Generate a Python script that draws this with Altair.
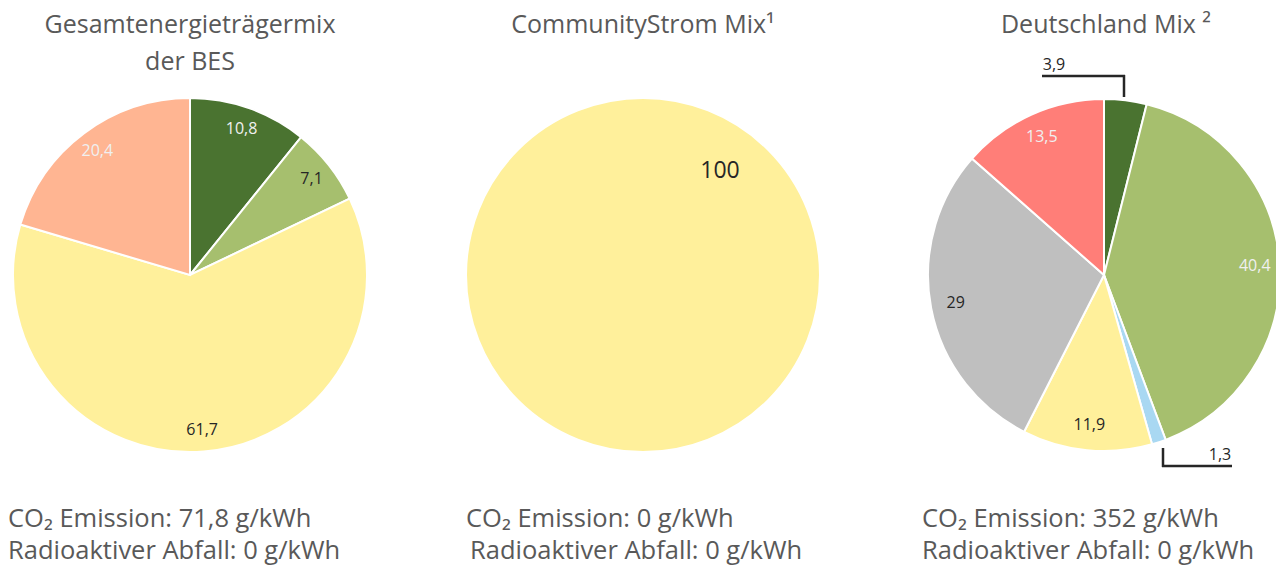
import altair as alt
import pandas as pd

# ---- data ----
pie_titles = [["Gesamtenergieträgermix", "der BES"], ["CommunityStrom Mix¹"], ["Deutschland Mix ²"]]
co2_lines = ["CO₂ Emission: 71,8 g/kWh", "CO₂ Emission: 0 g/kWh", "CO₂ Emission: 352 g/kWh"]
waste_lines = ["Radioaktiver Abfall: 0 g/kWh", "Radioaktiver Abfall: 0 g/kWh", "Radioaktiver Abfall: 0 g/kWh"]

bes_cats = ["Wind", "Sonstige Erneuerbare", "Solar", "Erdgas"]
bes_vals = [10.8, 7.1, 61.7, 20.4]

community_cats = ["Solar"]
community_vals = [100]

de_cats = ["Wind", "Sonstige Erneuerbare", "Wasser", "Solar", "Kohle", "Kernenergie"]
de_vals = [3.9, 40.4, 1.3, 11.9, 29, 13.5]

all_cats = ["Wind", "Sonstige Erneuerbare", "Wasser", "Solar", "Kohle", "Kernenergie", "Erdgas"]
all_colors = ["#4a7330", "#a6bf6e", "#a9d8f2", "#fff09b", "#bfbfbf", "#ff7e78", "#ffb592"]
light_label_keys = ["bes|Wind", "bes|Erdgas", "de|Sonstige Erneuerbare", "de|Kernenergie"]


def fmt(v):
    return ("%g" % v).replace(".", ",")


rows = []
for pie, cats, vals in [("bes", bes_cats, bes_vals), ("community", community_cats, community_vals), ("de", de_cats, de_vals)]:
    for i, (c, v) in enumerate(zip(cats, vals)):
        rows.append({"pie": pie, "cat": c, "value": v, "order": i, "label": fmt(v), "key": pie + "|" + c})
df = pd.DataFrame(rows)

FONT = "Open Sans"
centers = {"bes": 182, "community": 635, "de": 1096}
radii = {"bes": 177, "community": 177, "de": 176}
label_radii = {"bes": 155, "de": 151}
CY = 267

color_scale = alt.Scale(domain=all_cats, range=all_colors)

layers = []
for pie, cx in centers.items():
    base = alt.Chart(df).transform_filter(alt.datum.pie == pie)
    arcs = base.mark_arc(radius=radii[pie], stroke="white", strokeWidth=2).encode(
        theta=alt.Theta("value:Q", stack=True),
        color=alt.Color("cat:N", scale=color_scale, legend=None),
        order=alt.Order("order:Q"),
        x=alt.value(cx),
        y=alt.value(CY),
    )
    layers.append(arcs)
    if pie != "community":
        lab = base.mark_text(radius=label_radii[pie], font=FONT, fontSize=16).encode(
            theta=alt.Theta("value:Q", stack=True),
            order=alt.Order("order:Q"),
            text="label:N",
            x=alt.value(cx),
            y=alt.value(CY),
            color=alt.condition(
                alt.FieldOneOfPredicate(field="key", oneOf=light_label_keys),
                alt.value("#f0f0f0"),
                alt.value("#262626"),
            ),
            opacity=alt.condition(alt.datum.value < 5, alt.value(0), alt.value(1)),
        )
        layers.append(lab)

# label of the single 100 % slice
layers.append(
    alt.Chart(df).transform_filter(alt.datum.pie == "community").mark_text(
        font=FONT, fontSize=23, color="#262626"
    ).encode(text="label:N", x=alt.value(712), y=alt.value(163))
)

# outside labels for small slices of Deutschland Mix
small = alt.Chart(df).transform_filter((alt.datum.pie == "de") & (alt.datum.value < 5))
layers.append(
    small.transform_filter(alt.datum.order == 0).mark_text(font=FONT, fontSize=16, color="#262626").encode(
        text="label:N", x=alt.value(1046), y=alt.value(57)
    )
)
layers.append(
    small.transform_filter(alt.datum.order == 2).mark_text(font=FONT, fontSize=16, color="#262626").encode(
        text="label:N", x=alt.value(1212), y=alt.value(447)
    )
)

# leader lines
line_style = dict(color="#262626", strokeWidth=2.5)
leader = alt.Chart(pd.DataFrame({"a": [0]}))
layers.append(leader.mark_rule(**line_style).encode(x=alt.value(1034), x2=alt.value(1117), y=alt.value(68)))
layers.append(leader.mark_rule(**line_style).encode(x=alt.value(1116), y=alt.value(67), y2=alt.value(89)))
layers.append(leader.mark_rule(**line_style).encode(x=alt.value(1155), y=alt.value(440), y2=alt.value(459)))
layers.append(leader.mark_rule(**line_style).encode(x=alt.value(1154), x2=alt.value(1224), y=alt.value(458)))

# titles
title_x = {"bes": 182, "community": 635, "de": 1098}
for pie, tlines in zip(centers.keys(), pie_titles):
    for j, t in enumerate(tlines):
        layers.append(
            leader.mark_text(text=t, font=FONT, fontSize=25, color="#595959", baseline="middle").encode(
                x=alt.value(title_x[pie]), y=alt.value(17 + 37 * j)
            )
        )

# bottom notes
left_x1 = [0, 458, 914]
left_x2 = [0, 462, 914]
for i in range(3):
    layers.append(
        leader.mark_text(text=co2_lines[i], font=FONT, fontSize=25.5, color="#595959", align="left", baseline="middle").encode(
            x=alt.value(left_x1[i]), y=alt.value(511)
        )
    )
    layers.append(
        leader.mark_text(text=waste_lines[i], font=FONT, fontSize=25.5, color="#595959", align="left", baseline="middle").encode(
            x=alt.value(left_x2[i]), y=alt.value(543)
        )
    )

chart = alt.layer(*layers).properties(
    width=1268, height=558, autosize=alt.AutoSizeParams(type="none"), padding=0
).configure_view(stroke=None)

chart.save("out.html", embed_options={"renderer": "svg", "actions": False})
